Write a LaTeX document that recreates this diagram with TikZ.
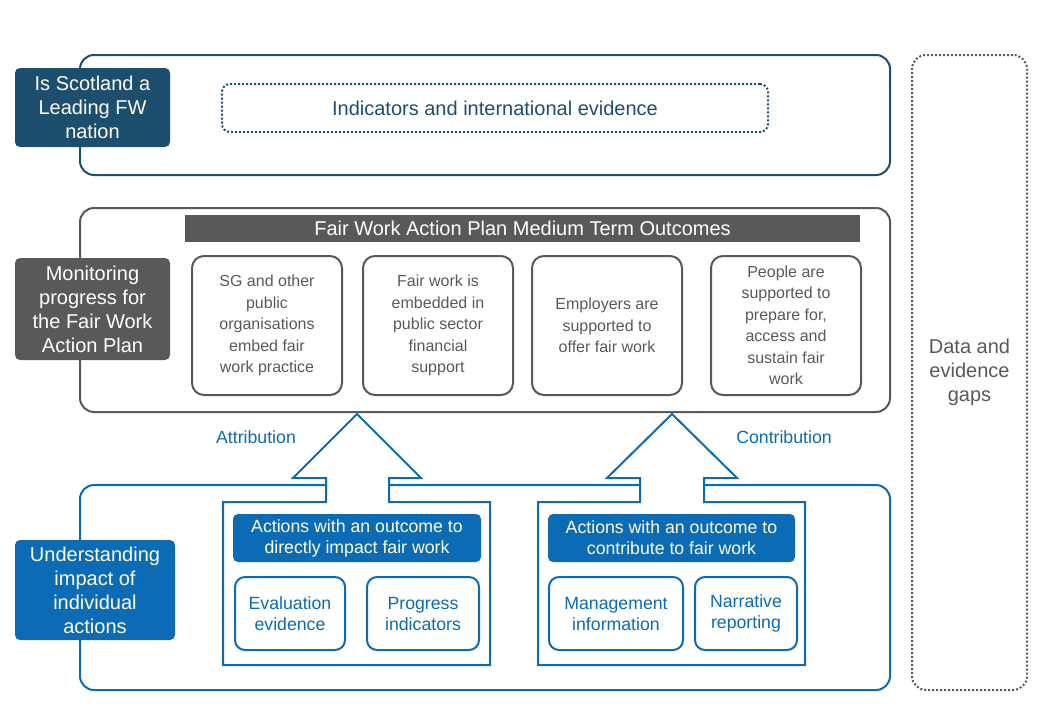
\documentclass[tikz,border=0pt]{standalone}
\usepackage{fontspec}
\setmainfont{Liberation Sans}
\begin{document}
\begin{tikzpicture}[x=1pt,y=-1pt,
  font=\fontsize{20}{24}\selectfont,
  line width=2pt,
  big/.style={rounded corners=14pt},
  lab/.style={rounded corners=5pt,text=white,align=center,inner sep=0pt},
  outc/.style={draw=cgray,rounded corners=12pt,text=cgray,align=center,inner sep=0pt,font=\fontsize{16}{21.5}\selectfont},
  sm/.style={draw=cblue,rounded corners=10pt,text=cblue,align=center,inner sep=0pt,font=\fontsize{17.7}{21}\selectfont},
  hdr/.style={fill=cblue,rounded corners=5pt,text=white,align=center,inner sep=0pt,font=\fontsize{17.7}{21}\selectfont}]
\definecolor{cdark}{HTML}{1C4E6E}
\definecolor{cgray}{HTML}{595959}
\definecolor{cblue}{HTML}{0B6BB5}
\useasboundingbox (0,0) rectangle (1041,710);
% top
\draw[cdark,big] (80,55) rectangle (890,175);
\node[lab,fill=cdark,minimum width=155pt,minimum height=79pt] (l1) at (92.5,107.5) {Is Scotland a\\Leading FW\\nation};
\node[draw=cdark,dotted,rounded corners=8pt,minimum width=546pt,minimum height=48pt,text=cdark,inner sep=0pt] (ind) at (495,108) {Indicators and international evidence};
% middle
\draw[cgray,big] (80,208) rectangle (890,412);
\node[fill=cgray,text=white,minimum width=675pt,minimum height=27pt,inner sep=0pt] (hd) at (522.5,228.5) {Fair Work Action Plan Medium Term Outcomes};
\node[lab,fill=cgray,minimum width=155pt,minimum height=102pt] (l2) at (92.5,309) {Monitoring\\progress for\\the Fair Work\\Action Plan};
\node[outc,minimum width=150pt,minimum height=139pt] (o1) at (267,325.5) {SG and other\\public\\organisations\\embed fair\\work practice};
\node[outc,minimum width=150pt,minimum height=139pt] (o2) at (438,325.5) {Fair work is\\embedded in\\public sector\\financial\\support};
\node[outc,minimum width=150pt,minimum height=139pt] (o3) at (607,325.5) {Employers are\\supported to\\offer fair work};
\node[outc,minimum width=150pt,minimum height=139pt] (o4) at (786,325.5) {People are\\supported to\\prepare for,\\access and\\sustain fair\\work};
% right
\node[draw=cgray,dotted,rounded corners=14pt,minimum width=115pt,minimum height=635pt,text=cgray,align=center,inner sep=0pt] (gap) at (969.5,372.5) {Data and\\evidence\\gaps};
% bottom
\draw[cblue,big] (80,485) rectangle (890,690);
\node[lab,fill=cblue,minimum width=160pt,minimum height=100pt] (l3) at (95,590) {Understanding\\impact of\\individual\\actions};
\node[text=cblue,font=\fontsize{17.7}{21}\selectfont] (att) at (256,437) {Attribution};
\node[text=cblue,font=\fontsize{17.7}{21}\selectfont] (con) at (784,437) {Contribution};
\draw[cblue,fill=white] (223,665)--(223,502)--(326,502)--(326,478)--(293,478)--(357,414)--(421,478)--(389,478)--(389,502)--(490,502)--(490,665)--cycle;
\draw[cblue,fill=white] (538,665)--(538,502)--(640,502)--(640,478)--(607,478)--(672,414)--(737,478)--(704,478)--(704,502)--(805,502)--(805,665)--cycle;
\node[hdr,minimum width=248pt,minimum height=48pt] (h1) at (357,538) {Actions with an outcome to\\directly impact fair work};
\node[hdr,minimum width=247pt,minimum height=48pt] (h2) at (671.5,538) {Actions with an outcome to\\contribute to fair work};
\node[sm,minimum width=110pt,minimum height=73pt] (s1) at (290,613.5) {Evaluation\\evidence};
\node[sm,minimum width=112pt,minimum height=73pt] (s2) at (423,613.5) {Progress\\indicators};
\node[sm,minimum width=134pt,minimum height=73pt] (s3) at (616,613.5) {Management\\information};
\node[sm,minimum width=102pt,minimum height=73pt] (s4) at (746,613.5) {Narrative\\reporting};
\end{tikzpicture}
\end{document}
